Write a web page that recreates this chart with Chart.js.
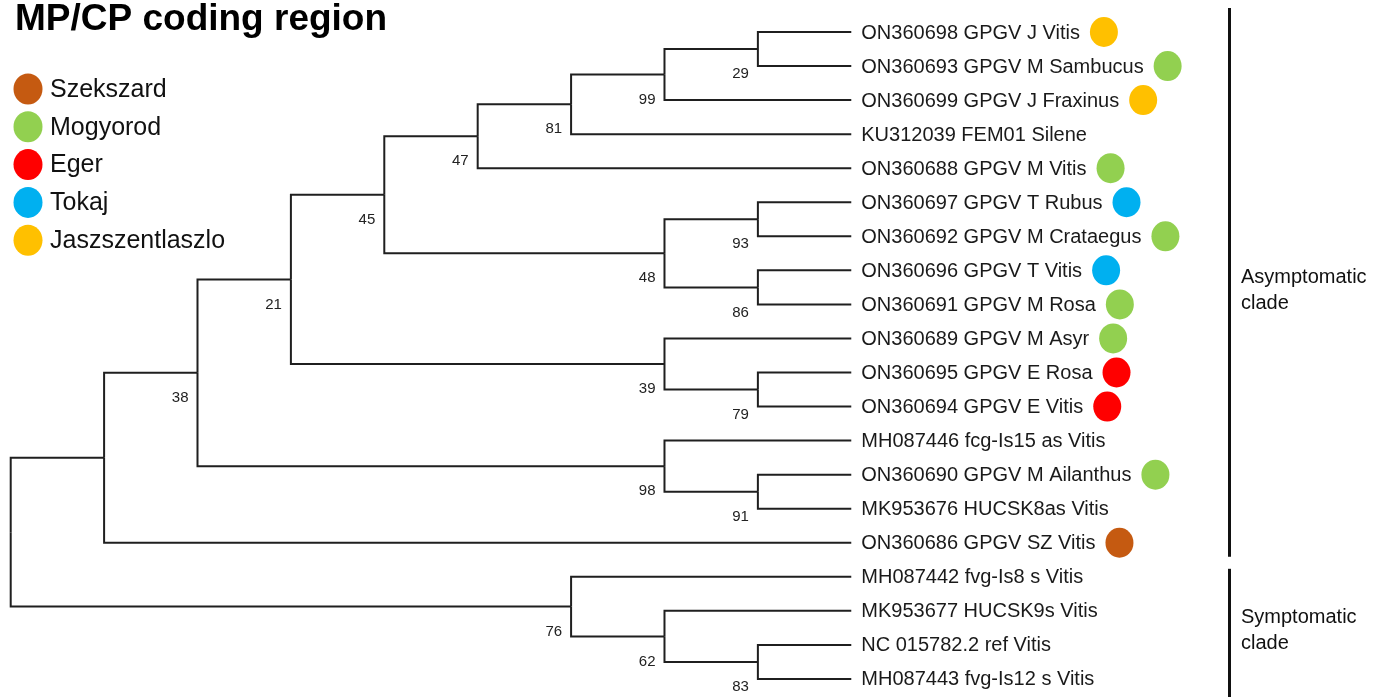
<!DOCTYPE html>
<html>
<head>
<meta charset="utf-8">
<script src="https://cdn.jsdelivr.net/npm/chart.js@4/dist/chart.umd.min.js"></script>
<style>
  body { margin: 0; background: #fff; }
  #wrap { width: 1397px; height: 697px; }
</style>
</head>
<body>
<div id="wrap"><canvas id="treeChart" width="1397" height="697"></canvas></div>
<script>
// tree data: leaves in drawing order, top to bottom
var titleText = "MP/CP coding region";

var siteNames = ["Szekszard", "Mogyorod", "Eger", "Tokaj", "Jaszszentlaszlo"];
var siteColors = ["#C55A11", "#92D050", "#FF0000", "#00B0F0", "#FFC000"];

var leafNames = [
    "ON360698 GPGV J Vitis",
    "ON360693 GPGV M Sambucus",
    "ON360699 GPGV J Fraxinus",
    "KU312039 FEM01 Silene",
    "ON360688 GPGV M Vitis",
    "ON360697 GPGV T Rubus",
    "ON360692 GPGV M Crataegus",
    "ON360696 GPGV T Vitis",
    "ON360691 GPGV M Rosa",
    "ON360689 GPGV M Asyr",
    "ON360695 GPGV E Rosa",
    "ON360694 GPGV E Vitis",
    "MH087446 fcg-Is15 as Vitis",
    "ON360690 GPGV M Ailanthus",
    "MK953676 HUCSK8as Vitis",
    "ON360686 GPGV SZ Vitis",
    "MH087442 fvg-Is8 s Vitis",
    "MK953677 HUCSK9s Vitis",
    "NC 015782.2 ref Vitis",
    "MH087443 fvg-Is12 s Vitis"
];
// index into siteNames, null = no marker
var leafSite = [4, 1, 4, null, 1, 3, 1, 3, 1, 1, 2, 2, null, 1, null, 0, null, null, null, null];
var leafDepth = 9;

// internal nodes (cladogram levels), bootstrap support, children
// children: number = leaf index, string = node name
var nodeNames   = ["root", "n1", "n38", "n21", "n45", "n47", "n81", "n99", "n29", "n48", "n93", "n86", "n39", "n79", "n98", "n91", "n76", "n62", "n83"];
var nodeDepth   = [0, 1, 2, 3, 4, 5, 6, 7, 8, 7, 8, 8, 7, 8, 7, 8, 6, 7, 8];
var nodeSupport = [null, null, 38, 21, 45, 47, 81, 99, 29, 48, 93, 86, 39, 79, 98, 91, 76, 62, 83];
var nodeChildren = [
    ["n1", "n76"],
    ["n38", 15],
    ["n21", "n98"],
    ["n45", "n39"],
    ["n47", "n48"],
    ["n81", 4],
    ["n99", 3],
    ["n29", 2],
    [0, 1],
    ["n93", "n86"],
    [5, 6],
    [7, 8],
    [9, "n79"],
    [10, 11],
    [12, "n91"],
    [13, 14],
    [16, "n62"],
    [17, "n83"],
    [18, 19]
];

var cladeNames = [["Asymptomatic", "clade"], ["Symptomatic", "clade"]];
var cladeFirst = [0, 16];
var cladeLast = [15, 19];

// ---- layout ----
var nodeY = {};
function getY(ref) {
    if (typeof ref === "number") return ref;
    if (nodeY[ref] !== undefined) return nodeY[ref];
    var k = nodeNames.indexOf(ref);
    var ch = nodeChildren[k];
    var sum = 0;
    for (var i = 0; i < ch.length; i++) sum += getY(ch[i]);
    nodeY[ref] = sum / ch.length;
    return nodeY[ref];
}
function getDepth(ref) {
    if (typeof ref === "number") return leafDepth;
    return nodeDepth[nodeNames.indexOf(ref)];
}

var edgeDatasets = [];
for (var n = 0; n < nodeNames.length; n++) {
    var pd = nodeDepth[n];
    var py = getY(nodeNames[n]);
    for (var c = 0; c < nodeChildren[n].length; c++) {
        var ch = nodeChildren[n][c];
        edgeDatasets.push({
            data: [{x: pd, y: py}, {x: pd, y: getY(ch)}, {x: getDepth(ch), y: getY(ch)}],
            showLine: true,
            borderColor: "#1f1f1f",
            borderWidth: 2,
            borderJoinStyle: "miter",
            pointRadius: 0,
            tension: 0,
            fill: false,
            clip: false
        });
    }
}

var font = "'Liberation Sans', Arial, sans-serif";

var treeText = {
    id: "treeText",
    afterDraw: function(chart) {
        var ctx = chart.ctx;
        var xs = chart.scales.x;
        var ys = chart.scales.y;
        ctx.save();

        // leaf labels + site markers
        ctx.font = "20px " + font;
        ctx.textBaseline = "middle";
        ctx.textAlign = "left";
        for (var i = 0; i < leafNames.length; i++) {
            var lx = xs.getPixelForValue(leafDepth) + 10;
            var ly = ys.getPixelForValue(i);
            ctx.fillStyle = "#1a1a1a";
            ctx.fillText(leafNames[i], lx, ly + 1);
            if (leafSite[i] !== null) {
                var w = ctx.measureText(leafNames[i]).width;
                ctx.fillStyle = siteColors[leafSite[i]];
                ctx.beginPath();
                ctx.ellipse(lx + w + 24, ly, 14, 15, 0, 0, Math.PI * 2);
                ctx.fill();
            }
        }

        // bootstrap values
        ctx.font = "15px " + font;
        ctx.textAlign = "right";
        ctx.fillStyle = "#222";
        for (var k = 0; k < nodeNames.length; k++) {
            if (nodeSupport[k] === null) continue;
            var bx = xs.getPixelForValue(nodeDepth[k]) - 9;
            var by = ys.getPixelForValue(getY(nodeNames[k])) + 25;
            ctx.fillText(String(nodeSupport[k]), bx, by);
        }

        // clade bars
        ctx.textAlign = "left";
        ctx.font = "20px " + font;
        for (var q = 0; q < cladeNames.length; q++) {
            var top = ys.getPixelForValue(cladeFirst[q]) - (q === 0 ? 24 : 8);
            var bot = q === cladeNames.length - 1 ? chart.height : ys.getPixelForValue(cladeLast[q]) + 14;
            ctx.fillStyle = "#111";
            ctx.fillRect(1228, top, 3, bot - top);
            var mid = (ys.getPixelForValue(cladeFirst[q]) + ys.getPixelForValue(cladeLast[q])) / 2;
            ctx.fillText(cladeNames[q][0], 1241, mid - 10);
            ctx.fillText(cladeNames[q][1], 1241, mid + 16);
        }

        // site legend
        ctx.font = "25px " + font;
        for (var s = 0; s < siteNames.length; s++) {
            var sy = 89 + s * 37.8;
            ctx.fillStyle = siteColors[s];
            ctx.beginPath();
            ctx.ellipse(28, sy, 14.5, 15.5, 0, 0, Math.PI * 2);
            ctx.fill();
            ctx.fillStyle = "#111";
            ctx.fillText(siteNames[s], 50, sy + 1);
        }

        // title
        ctx.font = "bold 37px " + font;
        ctx.textBaseline = "alphabetic";
        ctx.fillStyle = "#000";
        ctx.fillText(titleText, 15, 30);

        ctx.restore();
    }
};

// scales: one cladogram level = 93.4px, one leaf row = 34.05px
var treeChart = new Chart(document.getElementById("treeChart"), {
    type: "scatter",
    data: { datasets: edgeDatasets },
    options: {
        responsive: false,
        animation: false,
        layout: { padding: 0 },
        plugins: {
            legend: { display: false },
            tooltip: { enabled: false }
        },
        scales: {
            x: { type: "linear", display: false, min: -0.1146, max: 14.843 },
            y: { type: "linear", display: false, reverse: true, min: -0.9398, max: 19.53 }
        }
    },
    plugins: [treeText]
});
</script>
</body>
</html>
